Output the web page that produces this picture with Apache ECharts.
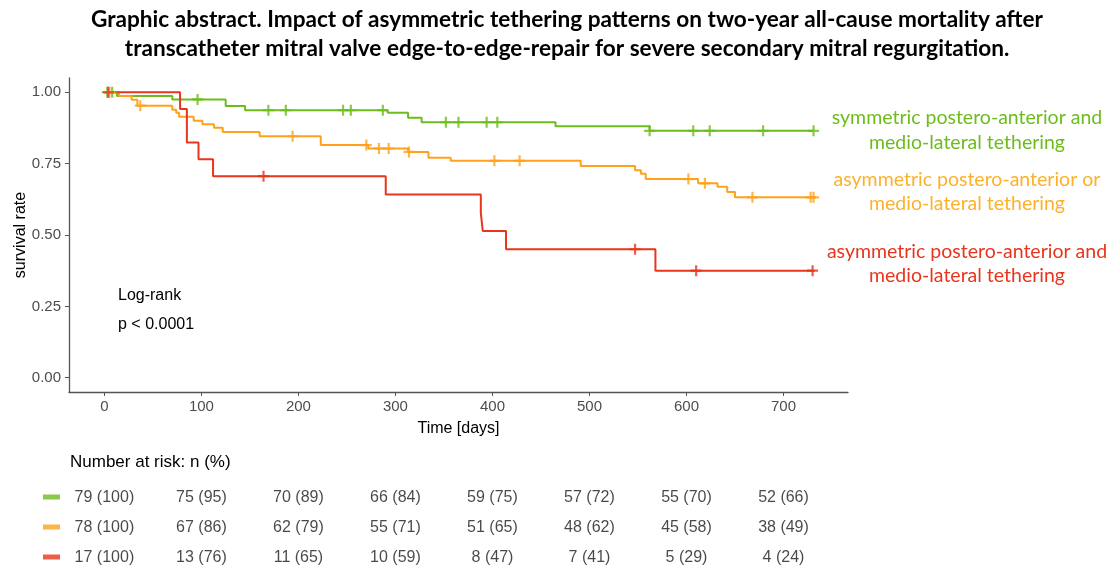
<!DOCTYPE html>
<html>
<head>
<meta charset="utf-8">
<script src="https://cdn.jsdelivr.net/npm/echarts@6/dist/echarts.min.js"></script>
<style>
  html, body { margin: 0; padding: 0; background: #ffffff; }
  #chart { width: 1110px; height: 568px; }
</style>
</head>
<body>
<div id="chart"></div>
<script>
// Kaplan-Meier step curves: event times (days) and survival after each event
const groupNames = [
  'symmetric postero-anterior and\nmedio-lateral tethering',
  'asymmetric postero-anterior or\nmedio-lateral tethering',
  'asymmetric postero-anterior and\nmedio-lateral tethering'
];

const symTimes = [0, 13, 70, 125, 145, 292, 313, 327, 465, 562, 731];
const symSurv  = [1, 0.987, 0.975, 0.952, 0.937, 0.928, 0.911, 0.895, 0.881, 0.865, 0.865];
const symCensor = [3, 8, 96, 169, 187, 246, 254, 287, 352, 365, 394, 405, 562, 607, 624, 679, 731];

const orTimes = [0, 15, 28, 34, 70, 74, 77, 92, 101, 113, 122, 160, 223, 272, 313, 334, 357, 491, 547, 553, 558, 612, 632, 642, 650, 733];
const orSurv  = [1, 0.987, 0.974, 0.953, 0.939, 0.928, 0.914, 0.900, 0.888, 0.876, 0.861, 0.846, 0.815, 0.803, 0.791, 0.771, 0.760, 0.742, 0.727, 0.715, 0.696, 0.681, 0.669, 0.651, 0.632, 0.632];
const orCensor = [5, 37, 194, 270, 283, 293, 314, 402, 428, 602, 619, 668, 728, 731];

const andTimes = [0, 78, 85, 97, 112, 290, 388, 390, 414, 568, 732];
const andSurv  = [1, 0.941, 0.824, 0.765, 0.706, 0.642, 0.578, 0.514, 0.450, 0.375, 0.375];
const andCensor = [4, 164, 547, 610, 730];

// Number at risk table
const riskTimes = [0, 100, 200, 300, 400, 500, 600, 700];
const riskSym = ['79 (100)', '75 (95)', '70 (89)', '66 (84)', '59 (75)', '57 (72)', '55 (70)', '52 (66)'];
const riskOr  = ['78 (100)', '67 (86)', '62 (79)', '55 (71)', '51 (65)', '48 (62)', '45 (58)', '38 (49)'];
const riskAnd = ['17 (100)', '13 (76)', '11 (65)', '10 (59)', '8 (47)', '7 (41)', '5 (29)', '4 (24)'];

const xTicks = [0, 100, 200, 300, 400, 500, 600, 700];
const yTicks = [0, 0.25, 0.5, 0.75, 1];

const colors = ['#6cbd1c', '#ffa11a', '#e8351d'];
const labelColors = ['#6cbd1c', '#fdb12a', '#e8351d'];

const X_MIN = -36.5, X_MAX = 766.5;

function stepData(times, surv) {
  return times.map((t, i) => [t, surv[i]]);
}
function survAt(times, surv, t) {
  let v = surv[0];
  for (let i = 0; i < times.length; i++) { if (times[i] <= t) v = surv[i]; }
  return v;
}
function censorData(times, surv, cens) {
  return cens.map(t => [t, survAt(times, surv, t)]);
}

const plusPath = 'path://M4,0 H6 V4 H10 V6 H6 V10 H4 V6 H0 V4 H4 Z';
const axisFont = 'Liberation Sans, Arial, sans-serif';

const curves = [
  [symTimes, symSurv, symCensor],
  [orTimes, orSurv, orCensor],
  [andTimes, andSurv, andCensor]
];

const series = [];
curves.forEach((c, i) => {
  series.push({
    type: 'line', xAxisIndex: 0, yAxisIndex: 0, step: 'end',
    data: stepData(c[0], c[1]), showSymbol: false,
    lineStyle: { color: colors[i], width: 2 }, z: 3 + i
  });
  series.push({
    type: 'scatter', xAxisIndex: 0, yAxisIndex: 0,
    data: censorData(c[0], c[1], c[2]),
    symbol: plusPath, symbolSize: 11,
    itemStyle: { color: colors[i] }, z: 6 + i
  });
});

// risk table rows drawn on a second grid sharing the time scale
[riskSym, riskOr, riskAnd].forEach((row, r) => {
  series.push({
    type: 'scatter', xAxisIndex: 1, yAxisIndex: 1, clip: false,
    data: riskTimes.map((t, i) => [t, r, row[i]]),
    symbolSize: 1, itemStyle: { color: 'rgba(0,0,0,0)' },
    label: {
      show: true, position: 'inside', formatter: p => p.data[2],
      color: '#1a1a1a', fontSize: 16, fontFamily: axisFont
    },
    silent: true
  });
  series.push({
    type: 'scatter', xAxisIndex: 1, yAxisIndex: 1, clip: false,
    data: [[X_MIN, r]], symbol: 'rect', symbolSize: [17, 5],
    symbolOffset: [-17.5, -1], itemStyle: { color: colors[r] }, silent: true
  });
});

const chart = echarts.init(document.getElementById('chart'), null, { renderer: 'canvas' });
chart.setOption({
  animation: false,
  backgroundColor: '#ffffff',
  title: {
    text: 'Graphic abstract. Impact of asymmetric tethering patterns on two-year all-cause mortality after\ntranscatheter mitral valve edge-to-edge-repair for severe secondary mitral regurgitation.',
    left: 562, top: 0, textAlign: 'center',
    textStyle: { fontFamily: 'Lato', fontWeight: 'bold', fontSize: 22.6, lineHeight: 29, color: '#000' }
  },
  grid: [
    { left: 69, top: 78, width: 779, height: 314 },
    { left: 69, top: 498, width: 779, height: 60 }
  ],
  xAxis: [
    {
      type: 'value', gridIndex: 0, min: X_MIN, max: X_MAX,
      name: 'Time [days]', nameLocation: 'middle', nameGap: 29,
      nameTextStyle: { fontFamily: axisFont, fontSize: 16, color: '#000' },
      axisLine: { show: true, onZero: false, lineStyle: { color: '#555', width: 1.3 } },
      axisTick: { show: true, length: 4, customValues: xTicks, lineStyle: { color: '#555' } },
      axisLabel: { customValues: xTicks, color: '#4d4d4d', fontSize: 15, fontFamily: axisFont, margin: 7 },
      splitLine: { show: false }
    },
    {
      type: 'value', gridIndex: 1, min: X_MIN, max: X_MAX, show: false
    }
  ],
  yAxis: [
    {
      type: 'value', gridIndex: 0, min: -0.05, max: 1.05,
      name: 'survival rate', nameLocation: 'middle', nameGap: 40, nameRotate: 90,
      nameMoveOverlap: false,
      nameTextStyle: { fontFamily: axisFont, fontSize: 16, color: '#000' },
      axisLine: { show: true, onZero: false, lineStyle: { color: '#555', width: 1.3 } },
      axisTick: { show: true, length: 4, customValues: yTicks, lineStyle: { color: '#555' } },
      axisLabel: { customValues: yTicks, formatter: v => v.toFixed(2), color: '#4d4d4d', fontSize: 15, fontFamily: axisFont, margin: 8 },
      splitLine: { show: false }
    },
    {
      type: 'category', gridIndex: 1, data: ['0', '1', '2'], inverse: true, boundaryGap: false, show: false
    }
  ],
  graphic: [
    { type: 'text', left: 118, top: 288, style: { text: 'Log-rank', font: '16px Liberation Sans, Arial', fill: '#000' } },
    { type: 'text', left: 118, top: 317, style: { text: 'p < 0.0001', font: '16px Liberation Sans, Arial', fill: '#000' } },
    { type: 'text', left: 70, top: 454, style: { text: 'Number at risk: n (%)', font: '17px Liberation Sans, Arial', fill: '#000' } },
    { type: 'text', x: 967, y: 105, style: { text: groupNames[0], textAlign: 'center', font: '19.5px Lato', lineHeight: 25, fill: labelColors[0] } },
    { type: 'text', x: 967, y: 168, style: { text: groupNames[1], textAlign: 'center', font: '19.5px Lato', lineHeight: 24, fill: labelColors[1] } },
    { type: 'text', x: 967, y: 240, style: { text: groupNames[2], textAlign: 'center', font: '19.5px Lato', lineHeight: 24, fill: labelColors[2] } }
  ],
  series: series
});
</script>
</body>
</html>
